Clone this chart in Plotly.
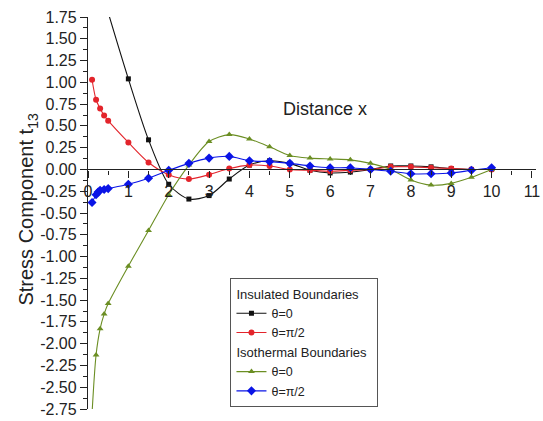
import plotly.graph_objects as go

# Insulated boundaries, theta = 0 (black squares)
ins0_x = [0.5, 1.0, 1.5, 2.0, 2.5, 3.0, 3.5, 4.0, 4.5, 5.0, 5.5, 6.0, 6.5, 7.0, 7.5, 8.0, 8.5, 9.0, 9.5, 10.0]
ins0_y = [1.80, 1.04, 0.34, -0.17, -0.34, -0.30, -0.11, 0.05, 0.10, 0.07, -0.01, -0.04, -0.03, 0.00, 0.04, 0.04, 0.03, 0.01, 0.00, 0.00]

# Insulated boundaries, theta = pi/2 (red circles)
ins90_x = [0.1, 0.2, 0.3, 0.4, 0.5, 1.0, 1.5, 2.0, 2.5, 3.0, 3.5, 4.0, 4.5, 5.0, 5.5, 6.0, 6.5, 7.0, 7.5, 8.0, 8.5, 9.0, 9.5, 10.0]
ins90_y = [1.03, 0.80, 0.70, 0.62, 0.56, 0.31, 0.08, -0.06, -0.11, -0.06, 0.01, 0.05, 0.04, 0.00, -0.01, -0.02, -0.01, 0.00, 0.03, 0.03, 0.02, 0.01, 0.00, 0.00]

# Isothermal boundaries, theta = 0 (green triangles)
iso0_x = [0.1, 0.2, 0.3, 0.4, 0.5, 1.0, 1.5, 2.0, 2.5, 3.0, 3.5, 4.0, 4.5, 5.0, 5.5, 6.0, 6.5, 7.0, 7.5, 8.0, 8.5, 9.0, 9.5, 10.0]
iso0_y = [-2.80, -2.13, -1.83, -1.66, -1.54, -1.11, -0.70, -0.29, 0.05, 0.32, 0.40, 0.35, 0.26, 0.16, 0.13, 0.12, 0.11, 0.07, 0.00, -0.12, -0.18, -0.16, -0.09, 0.00]

# Isothermal boundaries, theta = pi/2 (blue diamonds)
iso90_x = [0.1, 0.2, 0.25, 0.3, 0.4, 0.5, 1.0, 1.5, 2.0, 2.5, 3.0, 3.5, 4.0, 4.5, 5.0, 5.5, 6.0, 6.5, 7.0, 7.5, 8.0, 8.5, 9.0, 9.5, 10.0]
iso90_y = [-0.38, -0.29, -0.26, -0.24, -0.23, -0.22, -0.17, -0.10, -0.01, 0.07, 0.13, 0.15, 0.10, 0.09, 0.07, 0.04, 0.02, 0.02, 0.00, -0.02, -0.05, -0.05, -0.04, -0.01, 0.02]

# Tick labels
y_tick_vals = [1.75 - 0.25 * i for i in range(19)]
y_tick_text = ["1.75", "1.50", "1.25", "1.00", "0.75", "0.50", "0.25", "0.00",
               "-0.25", "-0.50", "-0.75", "-1.00", "-1.25", "-1.50", "-1.75",
               "-2.00", "-2.25", "-2.50", "-2.75"]
x_tick_vals = list(range(12))
x_tick_text = [str(v) for v in x_tick_vals]

FONT = "Arial, Liberation Sans, sans-serif"

fig = go.Figure()

def add(x, y, color, symbol, name, group, gtitle=None, size=6):
    kw = {}
    if gtitle:
        kw["legendgrouptitle"] = dict(text=gtitle, font=dict(size=13, color="#222"))
    fig.add_trace(go.Scatter(
        x=x, y=y, mode="lines+markers", name=name, legendgroup=group,
        line=dict(color=color, width=1.1, shape="spline", smoothing=0.8),
        marker=dict(color=color, symbol=symbol, size=size),
        **kw))

add(ins0_x, ins0_y, "#111111", "square", "θ=0", "ins", "Insulated Boundaries", 5)
add(ins90_x, ins90_y, "#e3242b", "circle", "θ=π/2", "ins", None, 6)
add(iso0_x, iso0_y, "#6b8e23", "triangle-up", "θ=0", "iso", "Isothermal Boundaries", 6)
add(iso90_x, iso90_y, "#0a14e6", "diamond", "θ=π/2", "iso", None, 7)

y_min, y_max = -2.75, 1.75
fig.update_layout(
    width=543, height=421,
    margin=dict(l=88, r=3, t=17, b=9),
    paper_bgcolor="white", plot_bgcolor="white",
    font=dict(family=FONT, color="#222"),
    showlegend=True,
    legend=dict(
        x=0.318, y=0.335, xanchor="left", yanchor="top",
        bordercolor="#555", borderwidth=1, bgcolor="white",
        font=dict(size=12.5, color="#222"),
        tracegroupgap=0, itemwidth=30,
    ),
    xaxis=dict(
        range=[0, 11.1], anchor="free", position=(0 - y_min) / (y_max - y_min),
        showline=True, linecolor="#222", linewidth=1.3,
        ticks="outside", ticklen=7, tickcolor="#222", tickwidth=1.3,
        tickvals=x_tick_vals, ticktext=x_tick_text,
        ticklabeloverflow="allow",
        minor=dict(dtick=0.5, ticks="outside", ticklen=4, tickcolor="#222"),
        showgrid=False, zeroline=False,
        tickfont=dict(size=16, color="#222"),
    ),
    yaxis=dict(
        range=[y_min, y_max],
        showline=True, linecolor="#222", linewidth=1.3,
        ticks="outside", ticklen=7, tickcolor="#222", tickwidth=1.3,
        tickvals=y_tick_vals, ticktext=y_tick_text,
        ticklabeloverflow="allow",
        minor=dict(dtick=0.125, ticks="outside", ticklen=4, tickcolor="#222"),
        showgrid=False, zeroline=False,
        tickfont=dict(size=16, color="#222"),
    ),
    annotations=[
        dict(text="Stress Component t<sub>13</sub>", xref="paper", yref="paper",
             x=-0.135, y=0.51, xanchor="center", yanchor="middle",
             textangle=-90, showarrow=False,
             font=dict(size=20, color="#222")),
        dict(text="Distance x", xref="paper", yref="paper",
             x=0.528, y=0.765, xanchor="center", yanchor="middle", showarrow=False,
             font=dict(size=18, color="#222")),
    ],
)

fig.write_html("out.html")
